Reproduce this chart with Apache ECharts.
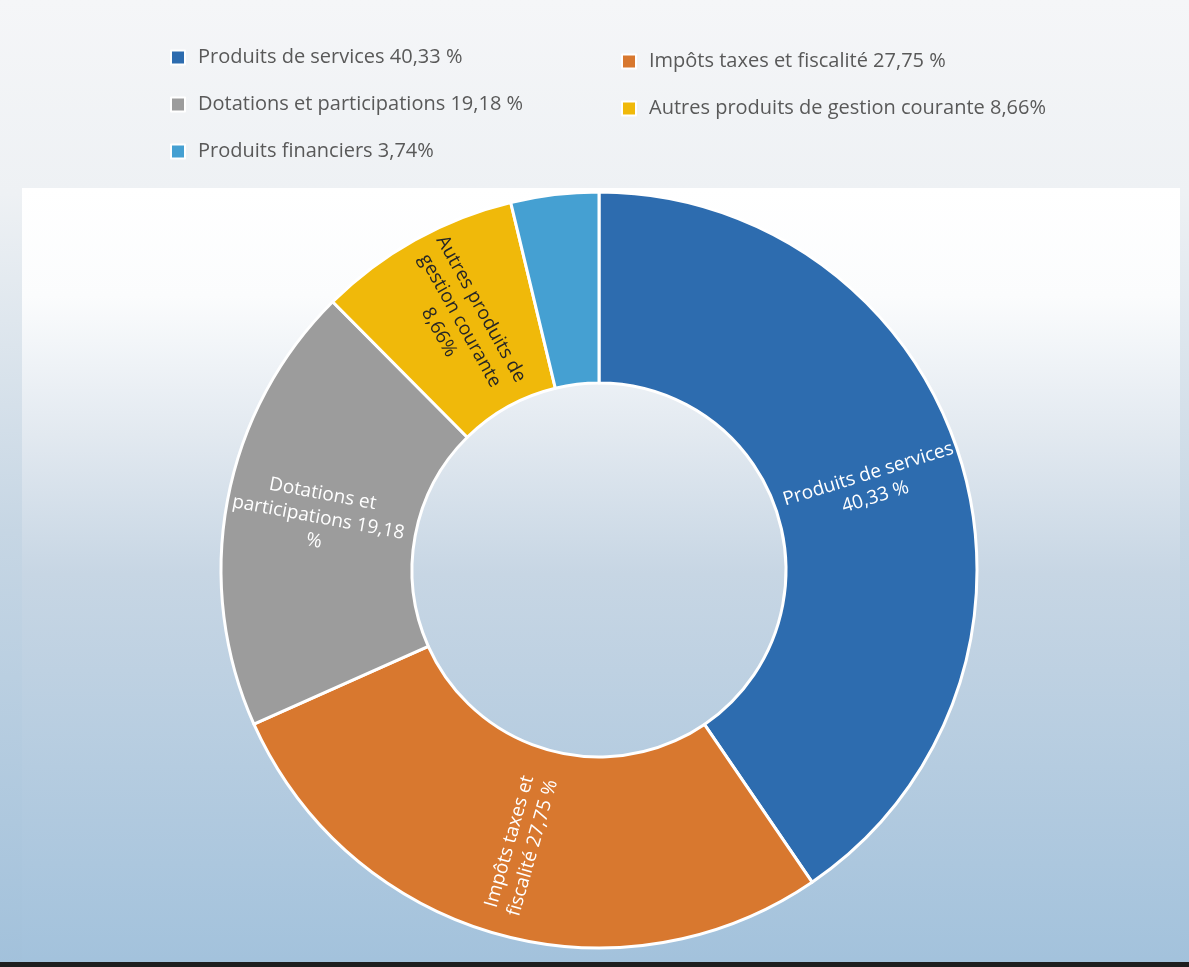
<!DOCTYPE html>
<html>
<head>
<meta charset="utf-8">
<script src="https://cdn.jsdelivr.net/npm/echarts@6/dist/echarts.min.js"></script>
<style>
html,body{margin:0;padding:0;width:1189px;height:967px;overflow:hidden;background:#fff;}
#chart{width:1189px;height:967px;}
</style>
</head>
<body>
<div id="chart"></div>
<script>
const categories = ['Produits de services', 'Impôts taxes et fiscalité', 'Dotations et participations', 'Autres produits de gestion courante', 'Produits financiers'];
const values = [40.33, 27.75, 19.18, 8.66, 3.74];
const legendLabels = ['Produits de services 40,33 %', 'Impôts taxes et fiscalité 27,75 %', 'Dotations et participations 19,18 %', 'Autres produits de gestion courante 8,66%', 'Produits financiers 3,74%'];
const sliceLabels = ['Produits de services\n40,33 %', 'Impôts taxes et\nfiscalité 27,75 %', 'Dotations et\nparticipations 19,18\n%', 'Autres produits de\ngestion courante\n8,66%', ''];
const colors = ['#2d6caf', '#d8782f', '#9c9c9c', '#f0b90a', '#45a0d2'];

const chart = echarts.init(document.getElementById('chart'), null, {renderer: 'canvas'});

const legendText = {};
categories.forEach((c, i) => legendText[c] = legendLabels[i]);

const legendCommon = {
  orient: 'vertical',
  icon: 'rect',
  padding: 0,
  itemWidth: 14,
  itemHeight: 14,
  itemGap: 26,
  selectedMode: false,
  textStyle: {fontFamily: 'Open Sans', fontSize: 20, lineHeight: 21, color: '#595959', padding: [0, 0, 0, 8]},
  formatter: name => legendText[name]
};

chart.setOption({
  backgroundColor: {
    type: 'linear', x: 0, y: 0, x2: 0, y2: 1,
    colorStops: [
      {offset: 0, color: '#f5f6f8'},
      {offset: 0.2, color: '#eef1f4'},
      {offset: 0.55, color: '#c6d6e4'},
      {offset: 1, color: '#a2c1db'}
    ]
  },
  graphic: [
    {
      type: 'rect', silent: true, z: -10,
      shape: {x: 22, y: 188, width: 1158, height: 772},
      style: {
        fill: {
          type: 'linear', x: 0, y: 0, x2: 0, y2: 1,
          colorStops: [
            {offset: 0, color: '#ffffff'},
            {offset: 0.14, color: '#fbfcfd'},
            {offset: 0.32, color: '#e2e9f0'},
            {offset: 0.5, color: '#c7d6e4'},
            {offset: 1, color: '#a3c2dc'}
          ]
        }
      }
    },
    {
      type: 'rect', silent: true, z: -9,
      shape: {x: 0, y: 962, width: 1189, height: 5},
      style: {fill: '#1e1e1e'}
    }
  ],
  color: colors,
  legend: [
    Object.assign({}, legendCommon, {left: 170, top: 47, data: [categories[0], categories[2], categories[4]]}),
    Object.assign({}, legendCommon, {left: 621, top: 51, data: [categories[1], categories[3]]})
  ],
  series: [{
    type: 'pie',
    center: [599, 570],
    radius: [187, 378],
    startAngle: 90,
    clockwise: true,
    avoidLabelOverlap: false,
    itemStyle: {borderColor: '#ffffff', borderWidth: 3},
    label: {
      show: true,
      position: 'inside',
      rotate: 'radial',
      fontFamily: 'Open Sans',
      fontSize: 19,
      lineHeight: 24,
      formatter: p => sliceLabels[p.dataIndex]
    },
    labelLine: {show: false},
    emphasis: {disabled: true},
    data: categories.map((c, i) => ({
      name: c,
      value: values[i],
      label: {color: i === 3 ? '#262626' : '#ffffff'}
    }))
  }]
});
</script>
</body>
</html>
